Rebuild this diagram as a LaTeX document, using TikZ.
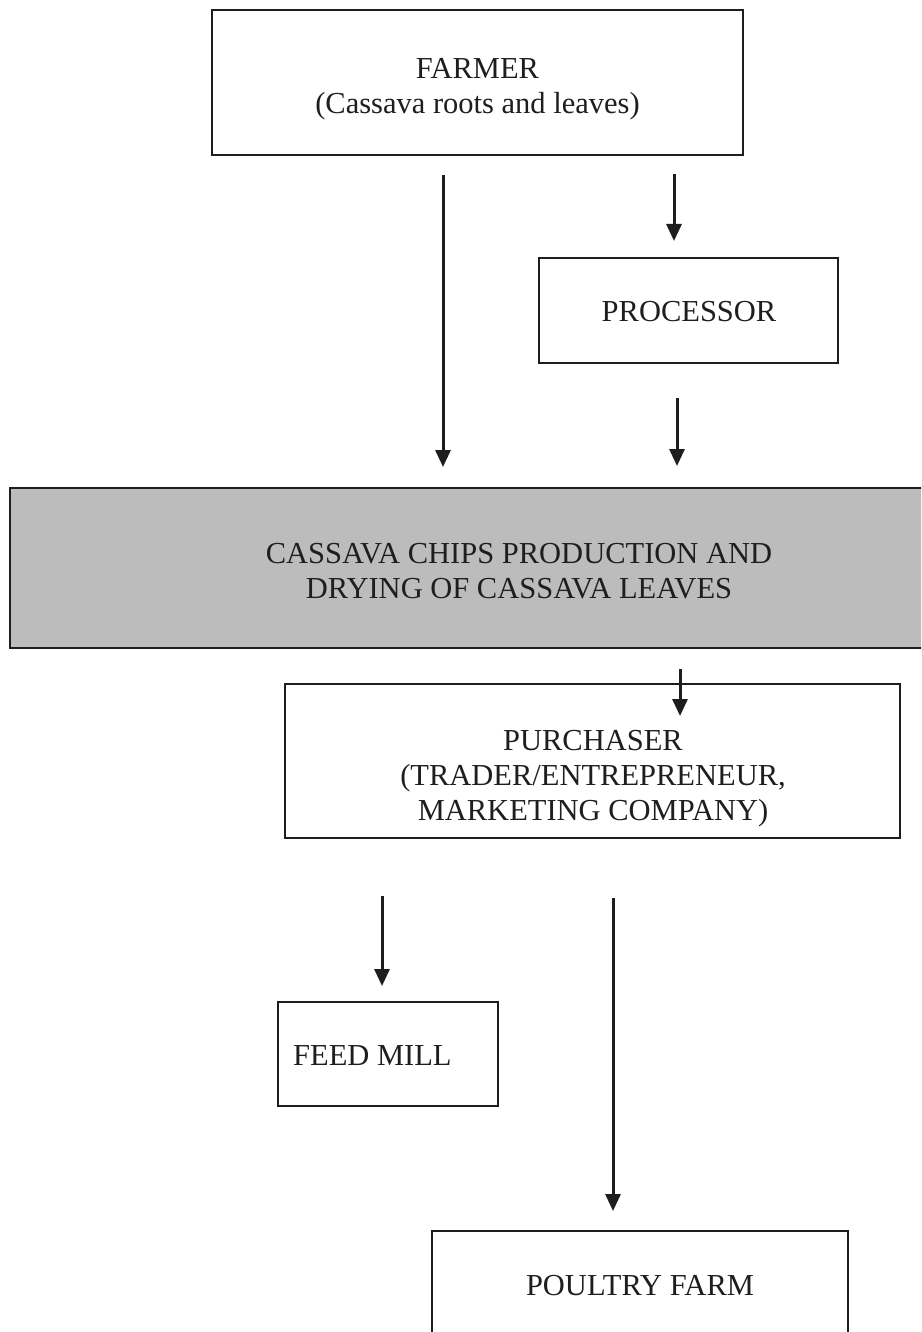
\documentclass[tikz,border=0pt]{standalone}
\usepackage{fontspec}
\setmainfont{Liberation Serif}
\usetikzlibrary{arrows.meta}
\definecolor{ink}{RGB}{30,30,30}
\definecolor{bandgray}{RGB}{188,188,188}
\tikzset{
  boxstyle/.style={draw=ink, line width=1.8pt, inner sep=0pt, fill=white},
  txt/.style={text=ink, font=\fontsize{30.5}{35}\selectfont, align=center, inner sep=0pt},
  arr/.style={draw=ink, line width=3pt, -{Triangle[length=17pt,width=15pt]}},
}
\begin{document}
\begin{tikzpicture}[x=1pt,y=-1pt]
\useasboundingbox (0,0) rectangle (921,1332);
\clip (0,0) rectangle (921,1332);
\fill[white] (0,0) rectangle (921,1332);

% boxes
\node[boxstyle, minimum width=531pt, minimum height=145pt] (farmer) at (477.5,82.5) {};
\node[txt] (farmertxt) at (477.5,89) {FARMER\\(Cassava roots and leaves)};

\node[boxstyle, minimum width=299pt, minimum height=105pt] (proc) at (688.5,310.5) {};
\node[txt] (proctxt) at (689,312) {PROCESSOR};

\node[boxstyle, fill=bandgray, minimum width=915pt, minimum height=160pt] (band) at (467.5,568) {};
\node[txt] (bandtxt) at (519,571) {CASSAVA CHIPS PRODUCTION AND\\DRYING OF CASSAVA LEAVES};

\node[boxstyle, minimum width=615pt, minimum height=154pt] (purch) at (592.5,761) {};
\node[txt] (purchtxt) at (593,779) {PURCHASER\\(TRADER/ENTREPRENEUR,\\MARKETING COMPANY)};

\node[boxstyle, minimum width=220pt, minimum height=104pt] (feed) at (388,1054) {};
\node[txt, anchor=west] (feedtxt) at (293,1056) {FEED MILL};

\node[boxstyle, minimum width=416pt, minimum height=150pt] (poultry) at (640,1306) {};
\node[txt] (poultrytxt) at (640,1286) {POULTRY FARM};

% arrow end points
\coordinate (a1s) at (443,175);  \coordinate (a1e) at (443,467);
\coordinate (a2s) at (674,174);  \coordinate (a2e) at (674,241);
\coordinate (a3s) at (677,398);  \coordinate (a3e) at (677,466);
\coordinate (a4s) at (680,669);  \coordinate (a4e) at (680,716);
\coordinate (a5s) at (382,896);  \coordinate (a5e) at (382,986);
\coordinate (a6s) at (613,898);  \coordinate (a6e) at (613,1211);

\draw[arr] (a1s) -- (a1e);
\draw[arr] (a2s) -- (a2e);
\draw[arr] (a3s) -- (a3e);
\draw[arr] (a4s) -- (a4e);
\draw[arr] (a5s) -- (a5e);
\draw[arr] (a6s) -- (a6e);
\end{tikzpicture}
\end{document}
